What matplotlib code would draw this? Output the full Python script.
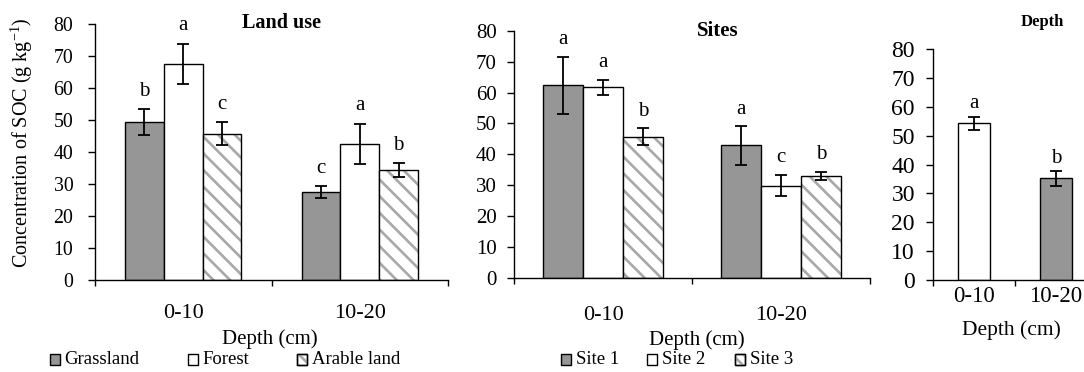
import matplotlib
matplotlib.use("Agg")
import matplotlib.pyplot as plt
from matplotlib.patches import Rectangle
import numpy as np

plt.rcParams['font.family'] = ['Liberation Serif', 'DejaVu Serif']
plt.rcParams['mathtext.fontset'] = 'custom'
plt.rcParams['mathtext.rm'] = 'Liberation Serif'
plt.rcParams['mathtext.default'] = 'regular'
plt.rcParams['hatch.linewidth'] = 1.9

# ---------------- data ----------------
depths = ['0-10', '10-20']

landuse_names = ['Grassland', 'Forest', 'Arable land']
grassland_mean = [49.4, 27.5]
forest_mean = [67.6, 42.6]
arable_mean = [45.7, 34.4]
grassland_err = [4.0, 1.9]
forest_err = [6.3, 6.3]
arable_err = [3.6, 2.1]
grassland_letters = ['b', 'c']
forest_letters = ['a', 'a']
arable_letters = ['c', 'b']

site_names = ['Site 1', 'Site 2', 'Site 3']
site1_mean = [62.4, 42.9]
site2_mean = [61.7, 29.9]
site3_mean = [45.7, 33.0]
site1_err = [9.2, 6.2]
site2_err = [2.4, 3.5]
site3_err = [2.8, 1.3]
site1_letters = ['a', 'a']
site2_letters = ['a', 'c']
site3_letters = ['b', 'b']

depth_mean = [54.3, 35.2]
depth_err = [2.3, 2.6]
depth_letters = ['a', 'b']

yticks = [0, 10, 20, 30, 40, 50, 60, 70, 80]

# ---------------- styles ----------------
GRAY = '#969696'
HATCH_GRAY = '#a8a8a8'
W, H = 1084, 372
DPI = 100

fig = plt.figure(figsize=(W / DPI, H / DPI), dpi=DPI)


def rect(l, r, top, bottom):
    return [l / W, 1 - bottom / H, (r - l) / W, (bottom - top) / H]


def fx(x):
    return x / W


def fy(y):
    return 1 - y / H


def style_axes(ax, ytick_size, ytick_pad, xtick_size, xtick_pad):
    ax.set_ylim(0, 80)
    ax.set_xlim(-0.5, 1.5)
    ax.set_yticks(yticks)
    ax.set_xticks([-0.5, 0.5, 1.5])
    ax.set_xticklabels([])
    ax.set_xticks([0, 1], minor=True)
    ax.set_xticklabels(depths, minor=True)
    ax.tick_params(axis='x', which='major', direction='out', length=4.5, width=1.0)
    ax.tick_params(axis='x', which='minor', length=0, labelsize=xtick_size, pad=xtick_pad)
    ax.tick_params(axis='y', direction='out', length=5, width=1.0,
                   labelsize=ytick_size, pad=ytick_pad)
    for s in ['top', 'right']:
        ax.spines[s].set_visible(False)
    for s in ['left', 'bottom']:
        ax.spines[s].set_linewidth(1.0)
    ax.patch.set_alpha(0)


def draw_bar(ax, x, h, err, width, kind, letter, letter_off):
    if kind == 'gray':
        ax.bar(x, h, width, color=GRAY, edgecolor='black', linewidth=1.0, zorder=2)
    elif kind == 'white':
        ax.bar(x, h, width, color='white', edgecolor='black', linewidth=1.0, zorder=2)
    else:
        ax.bar(x, h, width, color='white', edgecolor=HATCH_GRAY, hatch='\\\\',
               linewidth=0, zorder=2)
        ax.bar(x, h, width, color='none', edgecolor='black', linewidth=1.0, zorder=3)
    ax.errorbar(x, h, yerr=err, fmt='none', ecolor='black', elinewidth=1.3,
                capsize=4.6, capthick=1.3, zorder=4)
    ax.annotate(letter, (x, h + err), xytext=(0, letter_off), textcoords='offset points',
                ha='center', va='baseline', fontsize=15, annotation_clip=False)


x = np.arange(len(depths))

# ---------------- panel 1: land use ----------------
ax1 = fig.add_axes(rect(95, 448, 24, 280))
style_axes(ax1, 14.3, 10.5, 16, 17.5)
w1 = 0.22
lu = [(grassland_mean, grassland_err, grassland_letters, 'gray'),
      (forest_mean, forest_err, forest_letters, 'white'),
      (arable_mean, arable_err, arable_letters, 'hatch')]
for k, (m, e, l, kind) in enumerate(lu):
    for i in range(len(depths)):
        draw_bar(ax1, x[i] + (k - 1) * w1, m[i], e[i], w1, kind, l[i], 9.5)

# ---------------- panel 2: sites ----------------
ax2 = fig.add_axes(rect(514, 870, 30.7, 278))
style_axes(ax2, 15, 7.5, 16, 20)
w2 = 0.225
st = [(site1_mean, site1_err, site1_letters, 'gray'),
      (site2_mean, site2_err, site2_letters, 'white'),
      (site3_mean, site3_err, site3_letters, 'hatch')]
for k, (m, e, l, kind) in enumerate(st):
    for i in range(len(depths)):
        draw_bar(ax2, x[i] + (k - 1) * w2, m[i], e[i], w2, kind, l[i], 9)

# ---------------- panel 3: depth ----------------
ax3 = fig.add_axes(rect(933, 1097, 49.3, 280))
style_axes(ax3, 17, 8, 16.5, 4.5)
w3 = 0.38
kinds3 = ['white', 'gray']
for i in range(len(depths)):
    draw_bar(ax3, x[i], depth_mean[i], depth_err[i], w3, kinds3[i], depth_letters[i], 6)

# ---------------- titles / labels ----------------
fig.text(fx(281), fy(23), 'Land use', ha='center', va='center', fontsize=14.5, fontweight='bold')
fig.text(fx(718), fy(31), 'Sites', ha='center', va='center', fontsize=15, fontweight='bold')
fig.text(fx(1042), fy(22), 'Depth', ha='center', va='center', fontsize=12, fontweight='bold')

fig.text(fx(22), fy(143), 'Concentration of SOC (g kg$^{-1}$)', rotation=90,
         ha='center', va='center', fontsize=14.5)

fig.text(fx(270), fy(339), 'Depth (cm)', ha='center', va='center', fontsize=15)
fig.text(fx(697), fy(340), 'Depth (cm)', ha='center', va='center', fontsize=15)
fig.text(fx(1011), fy(330), 'Depth (cm)', ha='center', va='center', fontsize=15.5)

# ---------------- legends ----------------
def legend_item(xbox, xtext, label, kind):
    bw, bh = 10, 11
    top = 354
    r = Rectangle((fx(xbox), fy(top + bh)), bw / W, bh / H, transform=fig.transFigure,
                  facecolor=GRAY if kind == 'gray' else 'white',
                  edgecolor='black', linewidth=1.0)
    fig.add_artist(r)
    if kind == 'hatch':
        r2 = Rectangle((fx(xbox), fy(top + bh)), bw / W, bh / H, transform=fig.transFigure,
                       facecolor='none', edgecolor=HATCH_GRAY, hatch='\\\\\\', linewidth=0)
        fig.add_artist(r2)
        r3 = Rectangle((fx(xbox), fy(top + bh)), bw / W, bh / H, transform=fig.transFigure,
                       facecolor='none', edgecolor='black', linewidth=1.0)
        fig.add_artist(r3)
    fig.text(fx(xtext), fy(top + bh / 2), label, ha='left', va='center', fontsize=13.5)


kinds = ['gray', 'white', 'hatch']
for name, xb, xt, kd in zip(landuse_names, [50, 188, 297], [64, 202, 312], kinds):
    legend_item(xb, xt, name, kd)
for name, xb, xt, kd in zip(site_names, [561, 647, 735], [576, 662, 750], kinds):
    legend_item(xb, xt, name, kd)

fig.savefig('out.png', dpi=DPI)
